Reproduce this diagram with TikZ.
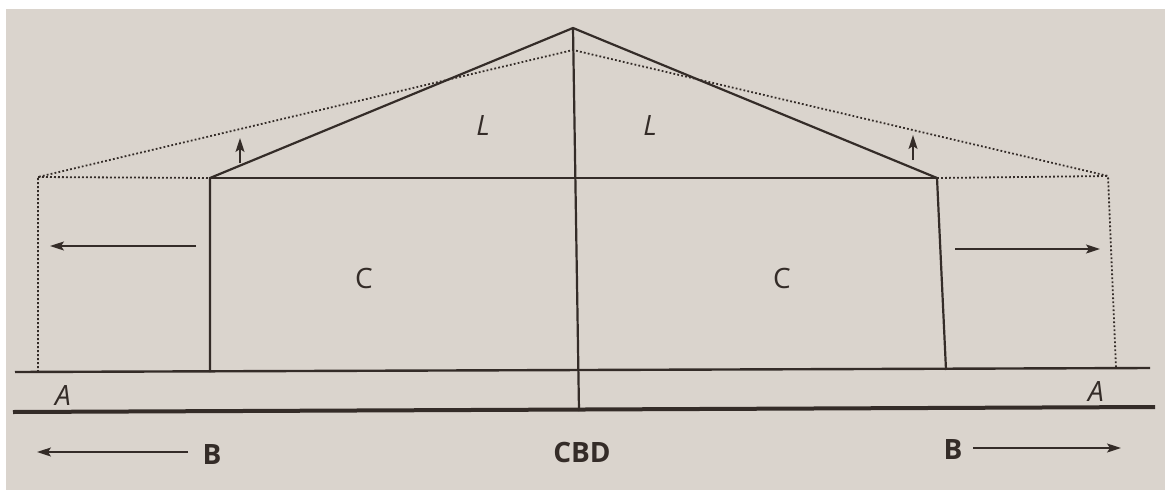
\documentclass[tikz,border=0pt]{standalone}
\usepackage{fontspec}
\setmainfont{Open Sans}
\usepackage{xcolor}
\definecolor{paper}{RGB}{218,212,205}
\definecolor{ink}{RGB}{52,44,40}
\usetikzlibrary{arrows.meta, positioning}

\begin{document}
\begin{tikzpicture}[x=0.5pt, y=-0.5pt,
  wall/.style={draw=ink, line width=1.1pt, line join=miter},
  ghost/.style={draw=ink, line width=0.9pt, dash pattern=on 0.9pt off 1.1pt},
  road/.style={draw=ink, line width=#1},
  flow/.style={draw=ink, line width=0.8pt, -{Stealth[length=7pt, width=4.5pt, inset=1.5pt]}},
  zone/.style={font=\fontsize{14}{16}\selectfont, text=ink},
  zlab/.style={font=\fontsize{14}{16}\selectfont\itshape, text=ink},
  blab/.style={font=\fontsize{14}{16}\selectfont\bfseries, text=ink}
]
% paper background
\useasboundingbox (0,0) rectangle (1165,492);
\fill[white] (0,0) rectangle (1165,492);
\fill[paper] (6,9) rectangle (1165,490);

% Corner points
\coordinate (apex) at (573,28);
\coordinate (apexold) at (573,50);
\coordinate (cbd) at (579,411);
\coordinate (cl) at (210,178);
\coordinate (cr) at (937,178);
\coordinate (clb) at (210,372);
\coordinate (crb) at (946,370);
\coordinate (ol) at (38,177);
\coordinate (or) at (1108,176);
\coordinate (olb) at (38,372);
\coordinate (orb) at (1116,368);

% Roads
\draw[road=1.2pt] (15,372) -- (1150,368);
\draw[road=2pt] (13,412) -- (1155,407);

% Present city: solid outline
\draw[wall] (clb) -- (cl) -- (apex) -- (cr) -- (crb);
\draw[wall] (cl) -- (cr);
\draw[wall] (apex) -- (cbd);

% Expanded city: dotted outline
\draw[ghost] (olb) -- (ol) -- (apexold) -- (or) -- (orb);
\draw[ghost] (ol) -- (cl);
\draw[ghost] (cr) -- (or);

% Zone labels
\node[zlab] (l1) at (483,126) {L};
\node[zlab] (l2) at (650,126) {L};
\node[zone] (c1) at (364,278) {C};
\node[zone] (c2) at (782,278) {C};
\node[zlab] (a1) at (63,396) {A};
\node[zlab] (a2) at (1096,391) {A};
\node[blab] (b1) at (212,454) {B};
\node[blab] (hub) at (582,452) {CBD};
\node[blab] (b2) at (953,449) {B};

% Movement arrows
\coordinate (wl) at (50,246);
\coordinate (wr) at (1100,249);
\coordinate (bl) at (37,452);
\coordinate (br) at (1121,448);
\coordinate (ul) at (240,138);
\coordinate (ur) at (913,135);
\draw[flow] (196,246) -- (wl);
\draw[flow] (955,249) -- (wr);
\draw[flow] (188,452) -- (bl);
\draw[flow] (973,448) -- (br);
\draw[flow] (240,163) -- (ul);
\draw[flow] (913,160) -- (ur);
\end{tikzpicture}
\end{document}
